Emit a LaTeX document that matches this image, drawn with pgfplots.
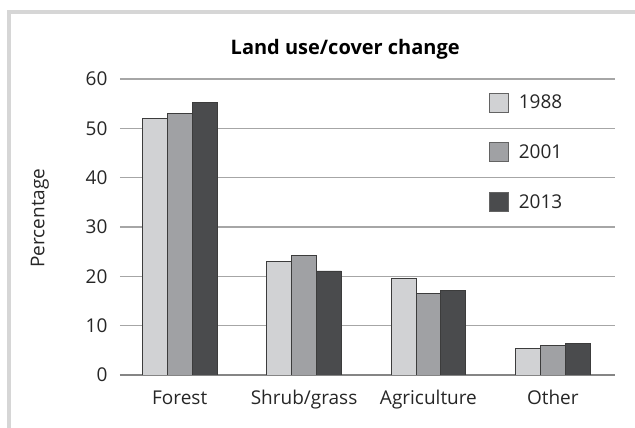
\documentclass[border=0pt]{standalone}
\usepackage{fontspec}
\setmainfont{Open Sans}
\usepackage{pgfplots}
\pgfplotsset{compat=1.18}
\usetikzlibrary{calc}
\definecolor{cA}{HTML}{D1D2D4}
\definecolor{cB}{HTML}{A0A1A4}
\definecolor{cC}{HTML}{4A4B4D}
\definecolor{edge}{HTML}{3C3C3C}
\definecolor{gridc}{HTML}{A6A6A6}
\definecolor{framec}{HTML}{D6D6D6}
\pgfplotstableread{
x y88 y01 y13
0 52.0 53.0 55.2
1 23.0 24.3 21.1
2 19.5 16.6 17.2
3 5.3 5.9 6.4
}\landtable
\begin{document}
\begin{tikzpicture}[x=1pt,y=1pt]
\begin{axis}[
  scale only axis, width=495pt, height=296pt,
  xmin=-0.48, xmax=3.5, ymin=0, ymax=60,
  ybar, bar width=0.2,
  axis x line*=bottom, axis y line*=left,
  x axis line style={gridc!80!black, line width=2pt, -},
  y axis line style={draw=none},
  ytick={0,10,...,60},
  xtick={0,1,2,3},
  xticklabels={Forest,Shrub/grass,Agriculture,Other},
  ymajorgrids, grid style={gridc, line width=1.2pt},
  major tick length=0pt,
  /pgf/number format/assume math mode=true,
  tick label style={font=\fontsize{19}{22}\selectfont, text=black!85},
  yticklabel style={xshift=-9pt},
  xticklabel style={yshift=-12pt},
  title={Land use/cover change},
  title style={at={(axis description cs:0.455,1.08)}, anchor=center, font=\fontsize{20}{24}\selectfont\bfseries},
  ylabel={Percentage},
  ylabel style={at={(axis description cs:-0.162,0.53)}, anchor=center, rotate=0, font=\fontsize{19}{22}\selectfont, text=black!85},
  legend style={at={(axis description cs:0.745,0.955)}, anchor=north west, draw=none, fill=none, inner sep=0pt,
    row sep=30pt, font=\fontsize{19}{22}\selectfont, text=black!85,
    /tikz/every odd column/.append style={column sep=8pt}},
  legend cell align=left,
  legend image code/.code={\draw[#1, draw=edge!80] (0pt,-9.5pt) rectangle (19pt,9.5pt);},
  every axis plot/.append style={draw=edge, line width=0.8pt},
]
\addplot[fill=cA, bar shift=-0.2] table[x=x,y=y88] {\landtable};
\addplot[fill=cB, bar shift=0] table[x=x,y=y01] {\landtable};
\addplot[fill=cC, bar shift=0.2] table[x=x,y=y13] {\landtable};
\legend{1988,2001,2013}
\coordinate (O) at (rel axis cs:0,0);
\end{axis}
\pgfresetboundingbox
\path[use as bounding box] ($(O)+(-120,-53)$) rectangle ($(O)+(515,375)$);
\draw[framec, line width=4pt] ($(O)+(-111,-60)$) -- ($(O)+(-111,363)$) -- ($(O)+(525,363)$);
\end{tikzpicture}
\end{document}
